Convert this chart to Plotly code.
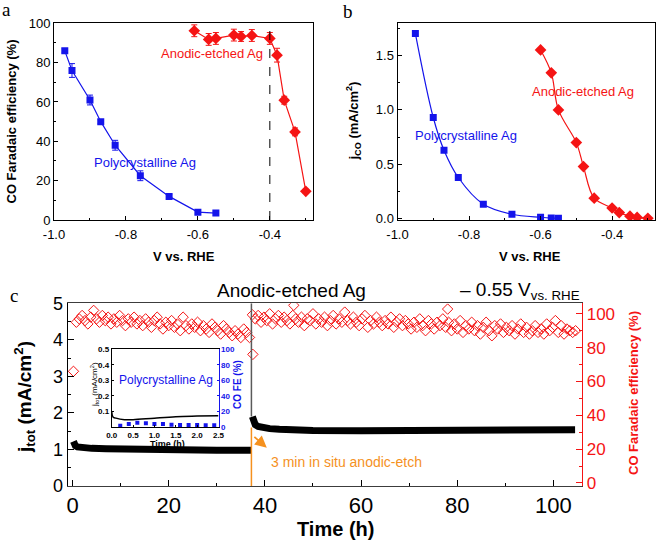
import plotly.graph_objects as go

# ---------------- data ----------------
# panel a: CO Faradaic efficiency vs potential
v_poly = [-0.97, -0.95, -0.90, -0.87, -0.83, -0.76, -0.68, -0.60, -0.55]
fe_poly = [86, 76, 61, 50, 38, 22.5, 12, 4, 3.5]
fe_poly_err = [1, 3.5, 2.5, 1, 2.5, 2.5, 1, 1, 1]
v_etch = [-0.61, -0.57, -0.55, -0.50, -0.48, -0.45, -0.40, -0.38, -0.36, -0.33, -0.30]
fe_etch = [96.2, 91.8, 92.3, 94.0, 93.3, 93.8, 92.3, 83.8, 60.9, 44.8, 14.6]
fe_etch_err = [3, 3, 3, 3, 2.5, 3, 3, 3.5, 2, 2, 1]
v_ref = -0.40

# panel b: partial CO current density
v_poly_b = [-0.95, -0.90, -0.87, -0.83, -0.76, -0.68, -0.60, -0.57, -0.55]
j_poly = [1.70, 0.93, 0.63, 0.38, 0.135, 0.043, 0.015, 0.008, 0.006]
v_etch_b = [-0.60, -0.57, -0.55, -0.50, -0.48, -0.45, -0.40, -0.38, -0.35, -0.33, -0.30]
j_etch = [1.55, 1.34, 1.00, 0.70, 0.48, 0.19, 0.10, 0.058, 0.025, 0.014, 0.006]

# panel c: long-term stability
t_jtot_pre = [0.2, 0.3, 0.6, 1, 2, 4, 7, 10, 15, 20, 25, 30, 34, 37.2]
jtot_pre = [1.22, 1.14, 1.10, 1.07, 1.05, 1.03, 1.02, 1.01, 1.00, 0.99, 0.98, 0.98, 0.98, 0.98]
t_jtot_post = [37.4, 37.6, 38.0, 38.6, 39.5, 41, 43, 46, 50, 60, 70, 80, 90, 95, 100, 104.5]
jtot_post = [1.90, 1.75, 1.68, 1.63, 1.60, 1.57, 1.55, 1.53, 1.52, 1.51, 1.51, 1.52, 1.52, 1.53, 1.54, 1.54]

fe_pre_start, fe_post_start, fe_step = 0.8, 38.0, 0.6
fe_pre = [95, 97, 99, 96, 94, 98, 102, 97, 95, 99,
          96, 98, 94, 97, 95, 99, 96, 93, 97, 95, 98,
          94, 96, 93, 97, 95, 92, 96, 98, 94, 91, 95,
          93, 96, 92, 94, 90, 98, 93, 91, 94, 92, 95,
          90, 93, 91, 89, 94, 92, 90, 88, 93, 91, 89,
          87, 90, 88, 86, 91, 89, 86]
fe_post = [97, 99, 95, 98, 96, 100, 94, 97, 99, 95, 98,
           96, 94, 99, 97, 95, 98, 93, 97, 96, 100, 94,
           97, 95, 98, 93, 96, 99, 94, 97, 95, 101, 96,
           94, 98, 95, 93, 97, 99, 92, 96, 94, 98, 95,
           93, 96, 94, 98, 92, 95, 97, 93, 96, 94, 91,
           95, 92, 97, 93, 90, 96, 94, 91, 95, 93, 97,
           92, 95, 90, 94, 91, 96, 89, 93, 91, 95, 90,
           93, 88, 92, 95, 90, 87, 93, 91, 94, 89, 92,
           90, 93, 88, 91, 94, 89, 92, 88, 90, 93, 89,
           91, 88, 94, 90, 92, 96, 89, 93, 88, 91, 90, 89, 90]
t_fe_pre = [round(fe_pre_start + fe_step * i, 2) for i in range(len(fe_pre))]
t_fe_post = [round(fe_post_start + fe_step * i, 2) for i in range(len(fe_post))]
t_fe_extra = [0.2, 13.0, 37.4, 37.5, 46.0, 78.0]
fe_extra = [66, 74.7, 99.4, 76, 105, 102.8]
t_etch = 37.2

# inset: polycrystalline Ag
t_inset_j = [0, 0.03, 0.1, 0.3, 0.5, 1.0, 1.5, 2.0, 2.5]
j_inset = [0.10, 0.065, 0.057, 0.047, 0.047, 0.057, 0.066, 0.070, 0.073]
t_inset_fe = [0.2, 0.4, 0.6, 0.8, 1.0, 1.2, 1.4, 1.6, 1.8, 2.0, 2.2, 2.4]
fe_inset = [1.7, 3.8, 5.6, 4.7, 3.8, 3.8, 3.0, 2.6, 2.6, 2.6, 2.1, 2.1]

# ---------------- style ----------------
W, H = 657, 547
FONT = "Liberation Sans, Arial, sans-serif"
SERIF = "Liberation Serif, Times New Roman, serif"
BLUE = "rgb(20,20,235)"
RED = "rgb(245,20,20)"
ORANGE = "rgb(245,145,30)"


def px(x):
    return x / W


def py(y):
    return 1 - y / H


fig = go.Figure()

# panel a
fig.add_trace(go.Scatter(x=v_poly, y=fe_poly, mode="lines+markers", xaxis="x", yaxis="y",
                         line=dict(color=BLUE, width=1.2),
                         marker=dict(symbol="square", size=7, color=BLUE),
                         error_y=dict(type="data", array=fe_poly_err, color=BLUE, thickness=1, width=3)))
fig.add_trace(go.Scatter(x=v_etch, y=fe_etch, mode="lines+markers", xaxis="x", yaxis="y",
                         line=dict(color=RED, width=1.2),
                         marker=dict(symbol="diamond", size=9, color=RED),
                         error_y=dict(type="data", array=fe_etch_err, color=RED, thickness=1, width=3)))

# panel b
fig.add_trace(go.Scatter(x=v_poly_b, y=j_poly, mode="lines+markers", xaxis="x2", yaxis="y2",
                         line=dict(color=BLUE, width=1.2, shape="spline", smoothing=1.0),
                         marker=dict(symbol="square", size=7, color=BLUE)))
fig.add_trace(go.Scatter(x=v_etch_b, y=j_etch, mode="lines+markers", xaxis="x2", yaxis="y2",
                         line=dict(color=RED, width=1.2, shape="spline", smoothing=1.0),
                         marker=dict(symbol="diamond", size=9, color=RED)))

# panel c
fig.add_trace(go.Scatter(x=t_jtot_pre, y=jtot_pre, mode="lines", xaxis="x3", yaxis="y3",
                         line=dict(color="black", width=7)))
fig.add_trace(go.Scatter(x=t_jtot_post, y=jtot_post, mode="lines", xaxis="x3", yaxis="y3",
                         line=dict(color="black", width=7)))
fig.add_trace(go.Scatter(x=t_fe_pre + t_fe_post + t_fe_extra, y=fe_pre + fe_post + fe_extra,
                         mode="markers", xaxis="x3", yaxis="y4",
                         marker=dict(symbol="diamond-open", size=8, color=RED, line=dict(width=1))))

# inset
fig.add_trace(go.Scatter(x=t_inset_j, y=j_inset, mode="lines", xaxis="x5", yaxis="y5",
                         line=dict(color="black", width=1.5, shape="spline")))
fig.add_trace(go.Scatter(x=t_inset_fe, y=fe_inset, mode="markers", xaxis="x5", yaxis="y6",
                         marker=dict(symbol="square", size=4, color=BLUE)))


def ax_style(**kw):
    d = dict(showline=True, linecolor="black", linewidth=1, ticks="inside", ticklen=4,
             tickcolor="black", showgrid=False, zeroline=False, automargin=False,
             tickfont=dict(family=FONT, size=13, color="black"))
    d.update(kw)
    return d


vt = [-1.0, -0.8, -0.6, -0.4]
vtt = ["-1.0", "-0.8", "-0.6", "-0.4"]

layout = dict(
    template="none",
    width=W, height=H, margin=dict(l=0, r=0, t=0, b=0, pad=0), autosize=False,
    paper_bgcolor="white", plot_bgcolor="white", showlegend=False,
    font=dict(family=FONT),
    xaxis=ax_style(domain=[px(54), px(313)], range=[-1.0, -0.28], tickvals=vt, ticktext=vtt,
                   mirror=True, anchor="y", ticklabelstandoff=2,
                   minor=dict(ticks="inside", ticklen=2, dtick=0.1, tickcolor="black")),
    yaxis=ax_style(domain=[py(220), py(23.3)], range=[0, 100], dtick=20, mirror=True, anchor="x",
                   minor=dict(ticks="inside", ticklen=2, dtick=10, tickcolor="black")),
    xaxis2=ax_style(domain=[px(397.5), px(655)], range=[-1.0, -0.28], tickvals=vt, ticktext=vtt,
                    mirror=True, anchor="y2", ticklabelstandoff=2,
                    minor=dict(ticks="inside", ticklen=2, dtick=0.1, tickcolor="black")),
    yaxis2=ax_style(domain=[py(220), py(22.7)], range=[-0.01, 1.80], tickvals=[0, 0.5, 1.0, 1.5],
                    tickformat=".1f", mirror=True, anchor="x2",
                    minor=dict(ticks="inside", ticklen=2, dtick=0.25, tickcolor="black")),
    xaxis3=ax_style(domain=[px(67.7), px(582.3)], range=[-1, 106], tickvals=[0, 20, 40, 60, 80, 100],
                    mirror=True, anchor="y3", ticklen=6, tickfont=dict(family=FONT, size=22, color="black"),
                    linecolor="rgb(60,60,60)",
                    minor=dict(ticks="inside", ticklen=3, dtick=10, tickcolor="black")),
    yaxis3=ax_style(domain=[py(486), py(303.3)], range=[0, 5], dtick=1, anchor="x3", ticklen=6,
                    tickfont=dict(family=FONT, size=18, color="black"),
                    minor=dict(ticks="inside", ticklen=3, dtick=0.5, tickcolor="black")),
    yaxis4=ax_style(overlaying="y3", side="right", anchor="x3", range=[-1.8, 106.2],
                    tickvals=[0, 20, 40, 60, 80, 100], linecolor=RED, tickcolor=RED, ticklen=6,
                    tickfont=dict(family=FONT, size=17, color=RED),
                    minor=dict(ticks="inside", ticklen=3, dtick=10, tickcolor=RED)),
    xaxis5=ax_style(domain=[px(111.7), px(218.5)], range=[0, 2.5], tickvals=[0, 0.5, 1.0, 1.5, 2.0, 2.5],
                    tickformat=".1f", mirror=True, anchor="y5", ticklen=2,
                    tickfont=dict(family=FONT, size=8, color="black", weight="bold")),
    yaxis5=ax_style(domain=[py(427), py(349.3)], range=[0, 0.5], tickvals=[0.1, 0.2, 0.3, 0.4, 0.5],
                    tickformat=".1f", anchor="x5", ticklen=2,
                    tickfont=dict(family=FONT, size=8, color="black", weight="bold")),
    yaxis6=ax_style(overlaying="y5", side="right", anchor="x5", range=[0, 100],
                    tickvals=[0, 20, 40, 60, 80, 100], ticklen=2, linecolor=BLUE, tickcolor=BLUE,
                    tickfont=dict(family=FONT, size=8, color=BLUE, weight="bold")),
)
fig.update_layout(**layout)

shapes = [
    dict(type="line", xref="x", yref="y domain", x0=v_ref, x1=v_ref, y0=0, y1=1,
         line=dict(color="black", width=1, dash="dash")),
    dict(type="line", xref="x3", yref="y3", x0=t_etch, x1=t_etch, y0=1.9, y1=5,
         line=dict(color="rgb(90,90,90)", width=1.5)),
    dict(type="line", xref="x3", yref="y3", x0=t_etch, x1=t_etch, y0=0, y1=1.6,
         line=dict(color=ORANGE, width=1.5)),
]
fig.update_layout(shapes=shapes)


def ann(text, x, y, size, color="black", bold=False, angle=0, family=FONT, xanchor="center", yanchor="middle"):
    fig.add_annotation(text=text, x=px(x), y=py(y), xref="paper", yref="paper", showarrow=False,
                       textangle=angle, xanchor=xanchor, yanchor=yanchor,
                       font=dict(family=family, size=size, color=color, weight="bold" if bold else "normal"))


# panel labels
ann("a", 6, 9, 19, family=SERIF)
ann("b", 348, 12, 19, family=SERIF)
ann("c", 14, 295, 19, family=SERIF)

# panel a texts
ann("CO Faradaic efficiency (%)", 11, 121.5, 13, bold=True, angle=-90)
ann("V vs. RHE", 184, 256, 13, bold=True)
ann("Anodic-etched Ag", 211.5, 53, 13, color=RED)
ann("Polycrystalline Ag", 145, 162, 13, color=BLUE)

# panel b texts
ann("j<sub>CO</sub> (mA/cm<sup>2</sup>)", 353, 121.5, 13, bold=True, angle=-90)
ann("V vs. RHE", 530, 256, 13, bold=True)
ann("Anodic-etched Ag", 583, 91.7, 13, color=RED)
ann("Polycrystalline Ag", 466, 135, 13, color=BLUE)

# panel c texts
ann("Anodic-etched Ag", 291.7, 291, 19)
ann("– 0.55 V<sub>vs. RHE</sub>", 582, 291, 19, xanchor="right")
ann("j<sub>tot</sub> (mA/cm<sup>2</sup>)", 24, 397, 19, bold=True, angle=-90)
ann("CO Faradaic efficiency (%)", 633, 393, 13, color=RED, bold=True, angle=-90)
ann("Time (h)", 335, 529, 20, bold=True)
ann("3 min in situ anodic-etch", 269.3, 461.7, 14, color=ORANGE, xanchor="left")

# arrow
fig.add_annotation(x=40.4, y=1.05, ax=37.5, ay=1.38, xref="x3", yref="y3", axref="x3", ayref="y3",
                   showarrow=True, arrowhead=2, arrowsize=1.3, arrowwidth=1.8, arrowcolor=ORANGE, text="")

# inset texts
ann("Polycrystalline Ag", 166, 380, 12, color=BLUE)
ann("j<sub>tot</sub> (mA/cm<sup>2</sup>)", 94, 385, 8, angle=-90)
ann("CO FE (%)", 237, 385, 10, color=BLUE, bold=True, angle=-90)
ann("Time (h)", 167, 444, 9, bold=True)

fig.write_html("out.html", config=dict(displayModeBar=False, staticPlot=True),
               post_script="document.body.style.margin='0px';document.body.style.padding='0px';")
